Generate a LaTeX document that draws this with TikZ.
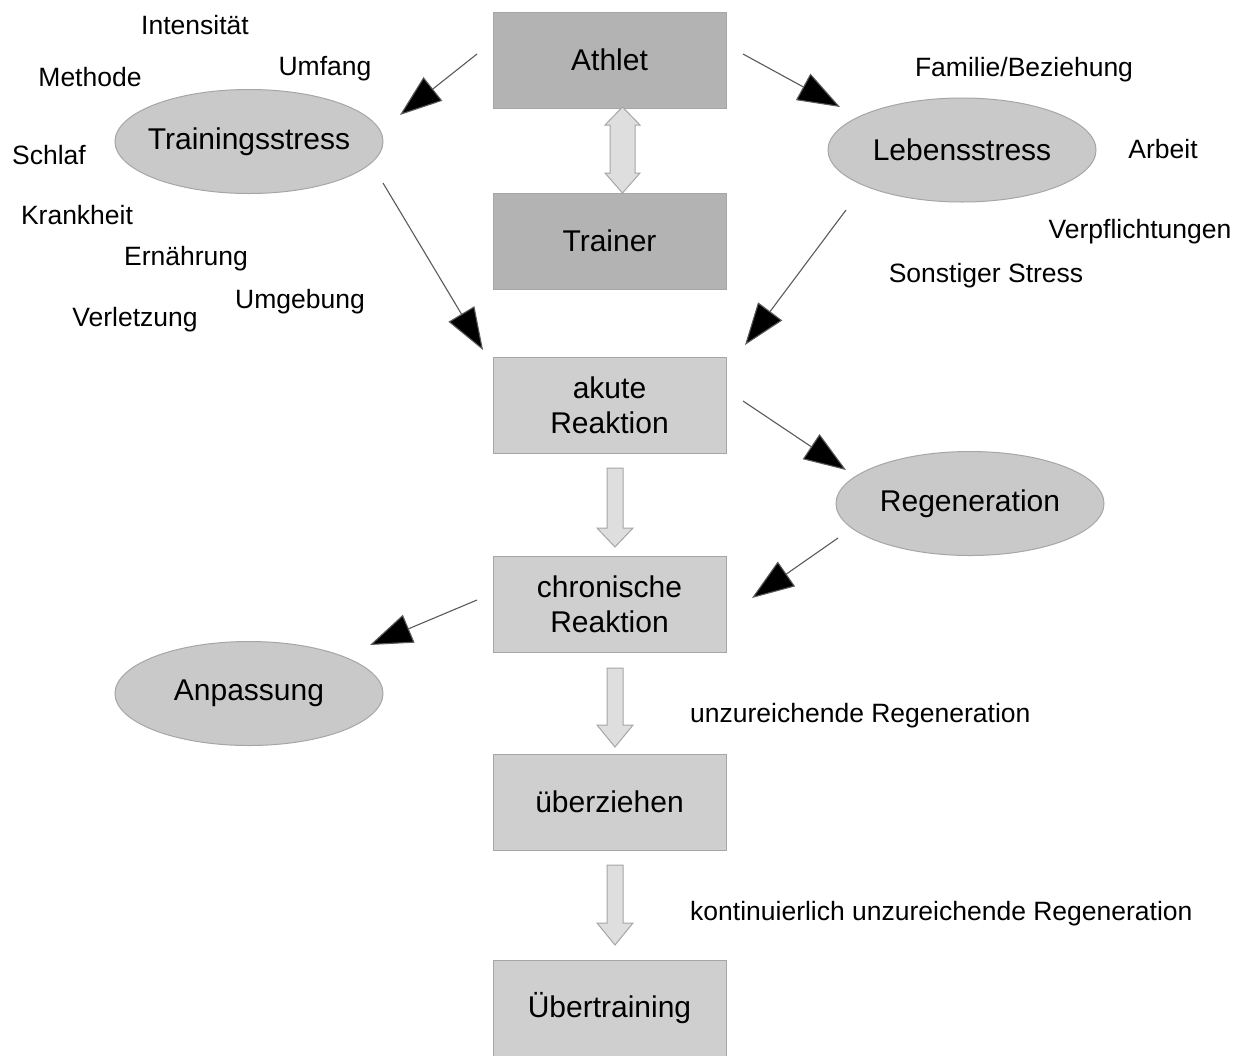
\documentclass[tikz,border=0pt]{standalone}
\usepackage{fontspec}
\setmainfont{Liberation Sans}
\usetikzlibrary{arrows.meta,shapes.geometric}
\definecolor{darkbox}{HTML}{B3B3B3}
\definecolor{lightbox}{HTML}{CFCFCF}
\definecolor{ellfill}{HTML}{C9C9C9}
\definecolor{bordergray}{HTML}{A6A6A6}
\definecolor{blockfill}{HTML}{DEDEDE}
\definecolor{linegray}{HTML}{5A5A5A}
\tikzset{
  boxnode/.style={rectangle, draw=bordergray, line width=1pt, minimum width=233pt, minimum height=96pt, inner sep=0pt, align=center, font=\fontsize{30}{35}\selectfont},
  darknode/.style={boxnode, fill=darkbox},
  lightnode/.style={boxnode, fill=lightbox},
  ellnode/.style={ellipse, draw=bordergray, line width=1pt, fill=ellfill, minimum width=268pt, minimum height=104pt, inner xsep=-40pt, inner ysep=0pt, font=\fontsize{30}{35}\selectfont},
  labelnode/.style={inner sep=0pt, font=\fontsize{26.5}{30}\selectfont},
  conn/.style={draw=linegray, line width=1.1pt, -{Triangle[length=42pt,width=30pt,fill=black]}},
  blockarrow/.style={draw=bordergray, line width=1pt, fill=blockfill, line join=miter}
}
\begin{document}
\begin{tikzpicture}[x=1pt,y=-1pt]
\useasboundingbox[fill=white] (0,0) rectangle (1244,1055);

% boxes
\node[darknode]  (athlet)   at (609.5,60)   {Athlet};
\node[darknode]  (trainer)  at (609.5,241) {Trainer};
\node[lightnode] (akute)    at (609.5,405)  {akute\\Reaktion};
\node[lightnode] (chron)    at (609.5,604)  {chronische\\Reaktion};
\node[lightnode] (ueberz)   at (609.5,802) {überziehen};
\node[lightnode] (uebertr)  at (609.5,1008) {Übertraining};

% ellipses
\node[ellnode] (tstress) at (249,141.5) {Trainingsstress};
\node[ellnode] (lstress) at (962,150)   {Lebensstress};
\node[ellnode] (regen)   at (970,503.5) {Regeneration};
\node[ellnode] (anpass)  at (249,693.5) {Anpassung};

% labels
\node[labelnode] (l1)  at (195,25)  {Intensität};
\node[labelnode] (l2)  at (325,69)  {Umfang};
\node[labelnode] (l3)  at (90,77)   {Methode};
\node[labelnode] (l4)  at (49,155)  {Schlaf};
\node[labelnode] (l5)  at (77,215)  {Krankheit};
\node[labelnode] (l6)  at (186,259) {Ernährung};
\node[labelnode] (l7)  at (300,302) {Umgebung};
\node[labelnode] (l8)  at (135,320) {Verletzung};
\node[labelnode] (l9)  at (1024,70) {Familie/Beziehung};
\node[labelnode] (l10) at (1163,149) {Arbeit};
\node[labelnode] (l11) at (1140,232) {Verpflichtungen};
\node[labelnode] (l12) at (986,276) {Sonstiger Stress};
\node[labelnode, anchor=west] (l13) at (690,716) {unzureichende Regeneration};
\node[labelnode, anchor=west] (l14) at (690,914) {kontinuierlich unzureichende Regeneration};

% connector end points
\coordinate (c1s) at (477,54);  \coordinate (c1e) at (400,115);
\coordinate (c2s) at (743,54);  \coordinate (c2e) at (840,107);
\coordinate (c3s) at (383,183); \coordinate (c3e) at (483,350);
\coordinate (c4s) at (846,210); \coordinate (c4e) at (745,345);
\coordinate (c5s) at (743,401); \coordinate (c5e) at (846,470);
\coordinate (c6s) at (838,538); \coordinate (c6e) at (752,598);
\coordinate (c7s) at (477,600); \coordinate (c7e) at (370,645);

\draw[conn] (c1s) -- (c1e);
\draw[conn] (c2s) -- (c2e);
\draw[conn] (c3s) -- (c3e);
\draw[conn] (c4s) -- (c4e);
\draw[conn] (c5s) -- (c5e);
\draw[conn] (c6s) -- (c6e);
\draw[conn] (c7s) -- (c7e);

% block arrows
\draw[blockarrow] (622.5,107) -- (640,125) -- (635,125) -- (635,173) -- (640,173) -- (622.5,193)
  -- (605,173) -- (610,173) -- (610,125) -- (605,125) -- cycle;
\draw[blockarrow] (607,468) -- (623,468) -- (623,528) -- (633,528) -- (615,547) -- (597,528) -- (607,528) -- cycle;
\draw[blockarrow] (607,668) -- (623,668) -- (623,725) -- (633,725) -- (615,747) -- (597,725) -- (607,725) -- cycle;
\draw[blockarrow] (607,865) -- (623,865) -- (623,923) -- (633,923) -- (615,945) -- (597,923) -- (607,923) -- cycle;
\end{tikzpicture}
\end{document}
